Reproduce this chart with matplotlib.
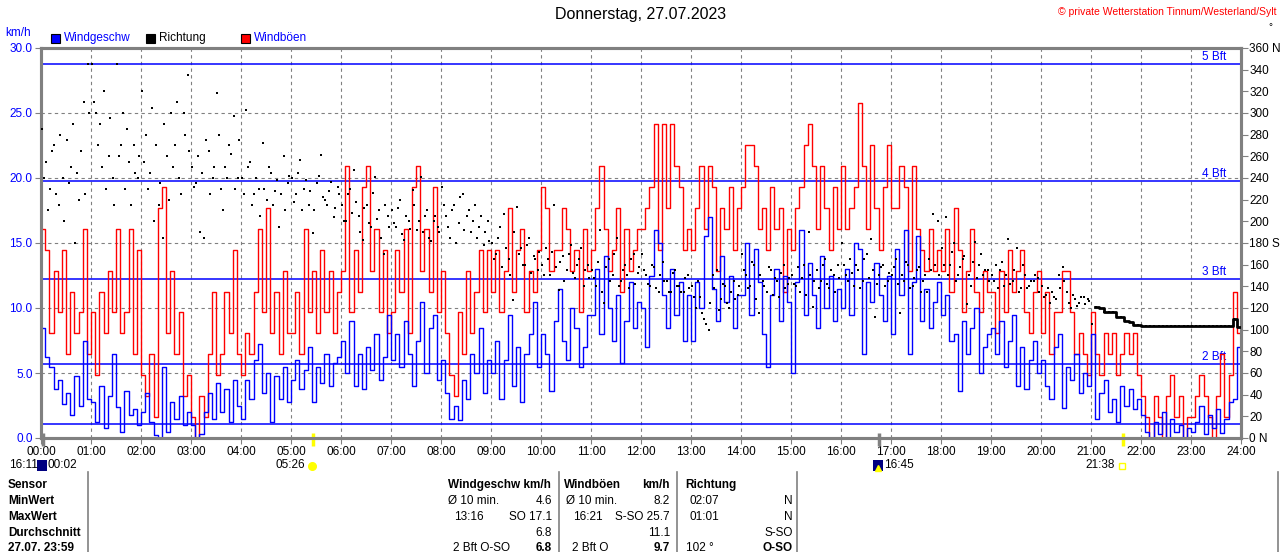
import numpy as np
import matplotlib.pyplot as plt
from matplotlib.patches import Rectangle
from matplotlib.lines import Line2D

plt.rcParams['font.family'] = ['Liberation Sans', 'DejaVu Sans']

# 5-minute samples, one row per hour (00:00 ... 23:55)
wind = [
    8.5, 6.2, 5.5, 3.8, 4.5, 2.6, 3.5, 1.8, 4.8, 2.5, 7.5, 3.0,
    2.8, 1.2, 4.0, 0.8, 3.2, 6.5, 2.4, 0.5, 3.6, 1.8, 2.2, 1.0,
    2.0, 3.5, 1.2, 0.2, 0.0, 5.5, 0.5, 2.8, 1.5, 3.2, 1.0, 2.0,
    1.0, 0.0, 0.3, 2.0, 3.5, 1.5, 4.2, 2.0, 3.8, 1.2, 4.5, 2.5,
    1.5, 4.5, 3.0, 6.0, 7.2, 3.5, 5.0, 1.2, 4.8, 3.0, 5.5, 2.8,
    4.5, 6.0, 3.8, 5.2, 7.0, 2.8, 5.5, 4.2, 6.5, 4.0, 5.8, 6.2,
    7.5, 5.0, 9.0, 4.0, 6.5, 3.8, 7.0, 5.2, 8.0, 4.5, 6.2, 9.5,
    6.0, 8.0, 5.5, 9.0, 6.5, 4.0, 7.5, 10.5, 5.0, 8.5, 9.5, 4.5,
    6.0, 3.5, 1.5, 2.5, 1.4, 4.5, 3.0, 6.5, 5.0, 8.5, 3.5, 6.0,
    5.0, 7.5, 3.0, 6.0, 9.5, 4.0, 7.0, 2.8, 6.5, 8.0, 10.5, 5.5,
    8.0, 6.5, 3.6, 9.0, 11.5, 7.5, 6.0, 10.0, 8.5, 5.5, 7.0, 9.5,
    9.5, 13.0, 8.0, 14.0, 10.0, 7.5, 11.0, 5.8, 9.0, 12.0, 8.5, 10.5,
    10.0, 7.0, 12.5, 16.0, 15.0, 11.0, 8.5, 13.0, 9.5, 12.0, 7.5, 11.0,
    7.5, 12.0, 10.0, 15.5, 17.0, 11.5, 9.0, 14.0, 10.5, 12.5, 8.5, 11.0,
    11.0, 15.0, 9.5, 14.5, 12.0, 8.0, 5.5, 11.0, 13.0, 9.0, 12.5, 10.5,
    5.0, 12.0, 16.0, 9.5, 13.5, 11.0, 8.5, 14.0, 10.0, 12.5, 9.0, 11.5,
    10.0, 13.0, 9.5, 15.0, 14.5, 6.5, 12.0, 10.5, 13.5, 11.0, 9.0, 12.5,
    8.0, 14.5, 11.0, 16.0, 6.5, 12.0, 15.5, 9.0, 11.5, 8.5, 10.5, 12.0,
    9.5, 11.0, 7.5, 8.0, 3.6, 9.0, 6.5, 8.5, 10.0, 5.0, 7.0, 8.0,
    8.5, 6.5, 9.0, 5.5, 7.5, 9.5, 4.0, 7.0, 3.8, 6.0, 7.5, 5.0,
    6.0, 4.0, 3.0, 7.0, 8.0, 2.3, 5.5, 4.5, 6.5, 3.5, 5.0, 4.0,
    8.0, 1.5, 3.5, 4.5, 2.0, 3.0, 1.2, 4.0, 2.5, 3.8, 2.2, 3.0,
    1.8, 0.5, 0.0, 1.2, 0.3, 2.0, 0.0, 1.5, 0.5, 1.0, 0.0, 0.8,
    0.5, 1.2, 2.5, 0.3, 1.8, 0.8, 2.2, 0.4, 1.5, 2.8, 3.0, 7.0,
]

# gusts are logged in whole mph
gust_mph = [
    10, 9, 5, 8, 6, 9, 4, 7, 5, 6, 10, 4,
    6, 3, 7, 5, 8, 6, 10, 5, 6, 10, 4, 9,
    3, 2, 4, 1, 11, 12, 5, 8, 4, 6, 2, 3,
    1, 0, 2, 1, 4, 7, 3, 4, 7, 5, 9, 4,
    3, 5, 4, 7, 10, 6, 11, 5, 7, 4, 8, 5,
    5, 7, 4, 10, 6, 8, 5, 9, 6, 8, 5, 7,
    8, 13, 6, 9, 7, 12, 13, 8, 10, 6, 9, 5,
    6, 9, 7, 10, 5, 12, 13, 8, 10, 7, 12, 6,
    8, 5, 3, 2, 6, 4, 8, 5, 7, 9, 6, 9,
    7, 9, 6, 8, 11, 7, 9, 10, 6, 8, 7, 9,
    12, 11, 8, 9, 9, 11, 10, 8, 9, 6, 10, 8,
    9, 11, 13, 10, 8, 9, 11, 7, 10, 8, 9, 10,
    10, 11, 12, 15, 9, 15, 11, 15, 13, 12, 9, 10,
    9, 11, 13, 10, 13, 12, 8, 11, 10, 12, 9, 11,
    12, 14, 14, 13, 10, 11, 9, 12, 10, 11, 7, 10,
    9, 11, 12, 14, 15, 13, 10, 13, 11, 9, 12, 10,
    13, 10, 11, 12, 16, 13, 10, 14, 11, 9, 12, 14,
    11, 11, 13, 12, 8, 13, 10, 9, 8, 10, 8, 9,
    8, 10, 7, 11, 9, 6, 8, 10, 7, 6, 8, 7,
    7, 5, 8, 6, 9, 7, 8, 9, 6, 5, 7, 8,
    5, 7, 4, 6, 6, 8, 8, 6, 4, 5, 4, 3,
    6, 4, 3, 5, 4, 5, 3, 4, 5, 4, 5, 3,
    2, 1, 0, 2, 1, 0, 2, 3, 1, 2, 0, 1,
    1, 2, 3, 2, 1, 0, 2, 4, 1, 3, 7, 5,
]

# wind direction in degrees, first sample of each 5-minute slot
dir_a = [
    285, 255, 230, 270, 215, 240, 275, 250, 180, 220, 310, 345,
    345, 300, 290, 320, 260, 240, 345, 270, 230, 255, 270, 240,
    320, 280, 245, 200, 215, 185, 260, 300, 270, 240, 300, 335,
    250, 235, 190, 185, 265, 240, 318, 230, 250, 270, 297, 240,
    240, 303, 255, 225, 230, 272, 220, 245, 228, 195, 260, 235,
    240, 225, 257, 230, 215, 189, 235, 261, 220, 228, 204, 232,
    215, 200, 230, 247, 205, 183, 215, 195, 241, 210, 170, 205,
    210, 195, 220, 183, 200, 229, 192, 241, 205, 185, 200, 195,
    232, 205, 185, 215, 198, 225, 205, 190, 215, 195, 178, 200,
    180, 170, 195, 207, 165, 127, 213, 175, 160, 185, 168, 155,
    160, 175, 150, 215, 137, 168, 155, 178, 148, 165, 140, 160,
    155, 140, 192, 125, 165, 150, 185, 145, 160, 138, 170, 152,
    170, 150, 140, 158, 135, 162, 145, 135, 155, 140, 135, 150,
    140, 120, 130, 110, 100, 150, 155, 128, 140, 120, 145, 132,
    170, 150, 140, 160, 115, 145, 135, 155, 148, 130, 160, 142,
    150, 140, 135, 160, 190, 121, 155, 145, 165, 138, 150, 160,
    180, 150, 165, 140, 155, 145, 170, 184, 112, 150, 160, 145,
    150, 165, 115, 145, 160, 140, 155, 135, 150, 165, 207, 200,
    175, 204, 160, 180, 150, 165, 124, 140, 181, 160, 150, 155,
    150, 160, 155, 140, 184, 145, 175, 138, 150, 140, 145, 148,
    140, 132, 125, 130, 150, 158, 135, 120, 128, 125, 130, 128,
    105, 121, 120, 116, 116, 116, 112, 112, 108, 107, 104, 104,
    103, 103, 103, 103, 103, 103, 103, 103, 103, 103, 103, 103,
    103, 103, 103, 103, 103, 103, 103, 103, 103, 103, 110, 102,
]

# second direction sample of each slot, 00:00 ... 20:55
dir_b = [
    240, 210, 265, 225, 280, 200, 235, 290, 245, 265, 225, 300,
    310, 270, 250, 230, 295, 215, 260, 300, 285, 215, 245, 260,
    255, 230, 305, 270, 235, 290, 220, 250, 310, 225, 280, 265,
    232, 260, 245, 275, 225, 250, 280, 210, 240, 262, 230, 275,
    225, 250, 215, 240, 205, 230, 250, 215, 238, 225, 210, 242,
    218, 245, 210, 238, 228, 210, 242, 222, 215, 236, 212, 225,
    200, 225, 208, 218, 190, 212, 198, 226, 202, 185, 215, 195,
    198, 212, 188, 205, 193, 215, 200, 190, 210, 182, 205, 190,
    215, 195, 210, 180, 222, 192, 210, 200, 185, 205, 190, 182,
    165, 185, 158, 175, 150, 190, 170, 160, 178, 152, 165, 172,
    150, 165, 172, 158, 162, 145, 170, 152, 160, 175, 155, 148,
    148, 162, 135, 158, 145, 170, 140, 155, 150, 165, 142, 158,
    155, 142, 160, 138, 150, 145, 135, 152, 140, 135, 148, 138,
    130, 145, 115, 105, 125, 138, 118, 142, 125, 135, 128, 140,
    155, 138, 162, 128, 150, 140, 158, 132, 145, 152, 138, 148,
    142, 158, 148, 132, 150, 145, 138, 160, 142, 155, 135, 148,
    160, 145, 152, 160, 138, 165, 148, 155, 142, 158, 140, 152,
    158, 142, 150, 162, 138, 148, 158, 145, 135, 155, 160, 150,
    160, 150, 172, 145, 158, 168, 150, 162, 148, 170, 155, 145,
    145, 138, 162, 150, 142, 155, 135, 160, 138, 145, 150, 135,
    130, 138, 135, 128, 138, 145, 125, 132, 122, 130, 124, 126,
]

bft_limits = [1.1, 5.7, 12.2, 19.8, 28.8]
bft_names = ["", "2 Bft", "3 Bft", "4 Bft", "5 Bft"]
hour_labels = ["%02d:00" % h for h in range(25)]

sunrise, sunset = 5 + 26 / 60, 21 + 38 / 60
moonrise = 16 + 45 / 60

BLUE = "#0000ff"
GRAY = "#808080"
W, H = 1280, 552
EV_Y = 465  # row of sun / moon times


def fx(x):
    return x / W


def fy(y):
    return 1 - y / H


t = np.arange(len(wind)) / 12.0
t_end = np.append(t, 24.0)
wind_s = np.append(wind, wind[-1])
gust = np.array(gust_mph) * 1.609
gust_s = np.append(gust, gust[-1])

fig = plt.figure(figsize=(12.8, 5.52), dpi=100)
ax = fig.add_axes([fx(41), fy(438), 1200 / W, 390 / H])
ax.set_xlim(0, 24)
ax.set_ylim(0, 30)

for h in range(1, 24):
    ax.axvline(h, color=GRAY, lw=0.8, ls=(0, (3, 3)), zorder=1)
for v in range(5, 30, 5):
    ax.axhline(v, color=GRAY, lw=0.8, ls=(0, (3, 3)), zorder=1)

for lim, name in zip(bft_limits, bft_names):
    ax.axhline(lim, color=BLUE, lw=1.1, zorder=2)
    if name:
        ax.text(23.7, lim + 0.08, name, color=BLUE, fontsize=8.5,
                ha="right", va="bottom")

ax.step(t_end, gust_s, where="post", color="#ff0000", lw=1.0, zorder=3)
ax.step(t_end, wind_s, where="post", color=BLUE, lw=1.0, zorder=4)

ax.set_xticks(range(25))
ax.set_xticklabels(hour_labels)
ax.set_yticks(np.arange(0, 30.1, 5))
ax.set_yticklabels(["%.1f" % v for v in np.arange(0, 30.1, 5)])
ax.tick_params(axis="x", length=4, color=GRAY, labelsize=8.5, pad=2)
ax.tick_params(axis="y", length=4, color=GRAY, labelcolor=BLUE,
               labelsize=8.5, pad=2)
for sp in ax.spines.values():
    sp.set_color(GRAY)
    sp.set_linewidth(2.2)

ax2 = ax.twinx()
ax2.set_ylim(0, 360)
ax2.scatter(t + 1 / 60, dir_a, s=3.5, marker="s", color="black",
            linewidths=0, zorder=5)
ax2.scatter(t[:len(dir_b)] + 3 / 60, dir_b, s=3.5, marker="s",
            color="black", linewidths=0, zorder=5)
ax2.step(np.append(t[253:], 24.0), np.append(dir_a[253:], dir_a[-1]),
         where="post", color="black", lw=2.0, zorder=5)
rticks = list(range(0, 361, 20))
rlabels = [str(v) for v in rticks]
rlabels[0], rlabels[9], rlabels[18] = "0 N", "180 S", "360 N"
ax2.set_yticks(rticks)
ax2.set_yticklabels(rlabels)
ax2.tick_params(axis="y", length=5, color=GRAY, labelsize=8.5, pad=1)
for sp in ax2.spines.values():
    sp.set_color(GRAY)
    sp.set_linewidth(2.2)

# sun / moon marks on the time axis
for tm, col in [(sunrise, "#ffff00"), (sunset, "#ffff00"),
                (moonrise, GRAY), (2 / 60, GRAY)]:
    ax.plot([tm, tm], [0.4, -0.65], color=col, lw=2.5, clip_on=False,
            zorder=6, solid_capstyle="butt")

# header
fig.text(fx(641), fy(15), "Donnerstag, 27.07.2023", fontsize=11.5,
         ha="center", va="center")
fig.text(fx(1277), fy(12), "\u00a9 private Wetterstation Tinnum/Westerland/Sylt",
         color="#ff0000", fontsize=7.5, ha="right", va="center")
fig.text(fx(1270), fy(27), "\u00b0", fontsize=7, ha="center", va="center")
fig.text(fx(5), fy(33), "km/h", color=BLUE, fontsize=8.5, va="center")
for x0, col, label, tcol in [(51, BLUE, "Windgeschw", BLUE),
                             (146, "black", "Richtung", "black"),
                             (241, "#ff0000", "Windböen", BLUE)]:
    fig.add_artist(Rectangle((fx(x0), fy(43)), 9 / W, 9 / H,
                             transform=fig.transFigure, facecolor=col,
                             edgecolor="black", lw=0.8))
    fig.text(fx(x0 + 13), fy(38), label, color=tcol, fontsize=8.5,
             va="center")

# sun / moon times below the axis
fig.text(fx(9), fy(EV_Y), "16:11", fontsize=8.5, va="center")
fig.add_artist(Rectangle((fx(37), fy(EV_Y + 6)), 10 / W, 11 / H,
                         transform=fig.transFigure, facecolor="#000080",
                         edgecolor="none"))
fig.text(fx(48), fy(EV_Y), "00:02", fontsize=8.5, va="center")
fig.text(fx(305), fy(EV_Y), "05:26", fontsize=8.5, va="center", ha="right")
fig.add_artist(Line2D([fx(312)], [fy(EV_Y + 1)], marker="o", ms=5.5,
                      color="#ffff00", transform=fig.transFigure))
fig.add_artist(Rectangle((fx(873), fy(EV_Y + 6)), 10 / W, 11 / H,
                         transform=fig.transFigure, facecolor="#000080",
                         edgecolor="none"))
fig.add_artist(Line2D([fx(878)], [fy(EV_Y + 3)], marker="^", ms=4,
                      color="#ffff00", transform=fig.transFigure))
fig.text(fx(884), fy(EV_Y), "16:45", fontsize=8.5, va="center")
fig.text(fx(1115), fy(EV_Y), "21:38", fontsize=8.5, va="center", ha="right")
fig.add_artist(Line2D([fx(1122)], [fy(EV_Y + 1)], marker="s", ms=4.5,
                      mfc="none", mec="#ffff00", mew=1,
                      transform=fig.transFigure))

# statistics table
for xs in [88, 559, 677, 797, 1278]:
    fig.add_artist(Line2D([fx(xs), fx(xs)], [fy(472), fy(552)], color=GRAY,
                          lw=1.2, transform=fig.transFigure))

rows_y = [485, 501, 517, 533, 548]
left_labels = ["Sensor", "MinWert", "MaxWert", "Durchschnitt", "27.07. 23:59"]
for y, lab in zip(rows_y, left_labels):
    fig.text(fx(8), fy(y), lab, fontsize=8.5, fontweight="bold", va="center")

cells = [
    (448, 485, "Windgeschw km/h", "left", True),
    (564, 485, "Windböen", "left", True),
    (670, 485, "km/h", "right", True),
    (685, 485, "Richtung", "left", True),
    (448, 501, "\u00d8 10 min.", "left", False),
    (552, 501, "4.6", "right", False),
    (566, 501, "\u00d8 10 min.", "left", False),
    (670, 501, "8.2", "right", False),
    (690, 501, "02:07", "left", False),
    (793, 501, "N", "right", False),
    (454, 517, "13:16", "left", False),
    (552, 517, "SO 17.1", "right", False),
    (573, 517, "16:21", "left", False),
    (670, 517, "S-SO 25.7", "right", False),
    (690, 517, "01:01", "left", False),
    (793, 517, "N", "right", False),
    (552, 533, "6.8", "right", False),
    (670, 533, "11.1", "right", False),
    (793, 533, "S-SO", "right", False),
    (453, 548, "2 Bft O-SO", "left", False),
    (552, 548, "6.8", "right", True),
    (572, 548, "2 Bft O", "left", False),
    (670, 548, "9.7", "right", True),
    (686, 548, "102 \u00b0", "left", False),
    (793, 548, "O-SO", "right", True),
]
for x, y, s, ha, bold in cells:
    fig.text(fx(x), fy(y), s, fontsize=8.5, ha=ha, va="center",
             fontweight="bold" if bold else "normal")

fig.savefig("out.png", dpi=100)
